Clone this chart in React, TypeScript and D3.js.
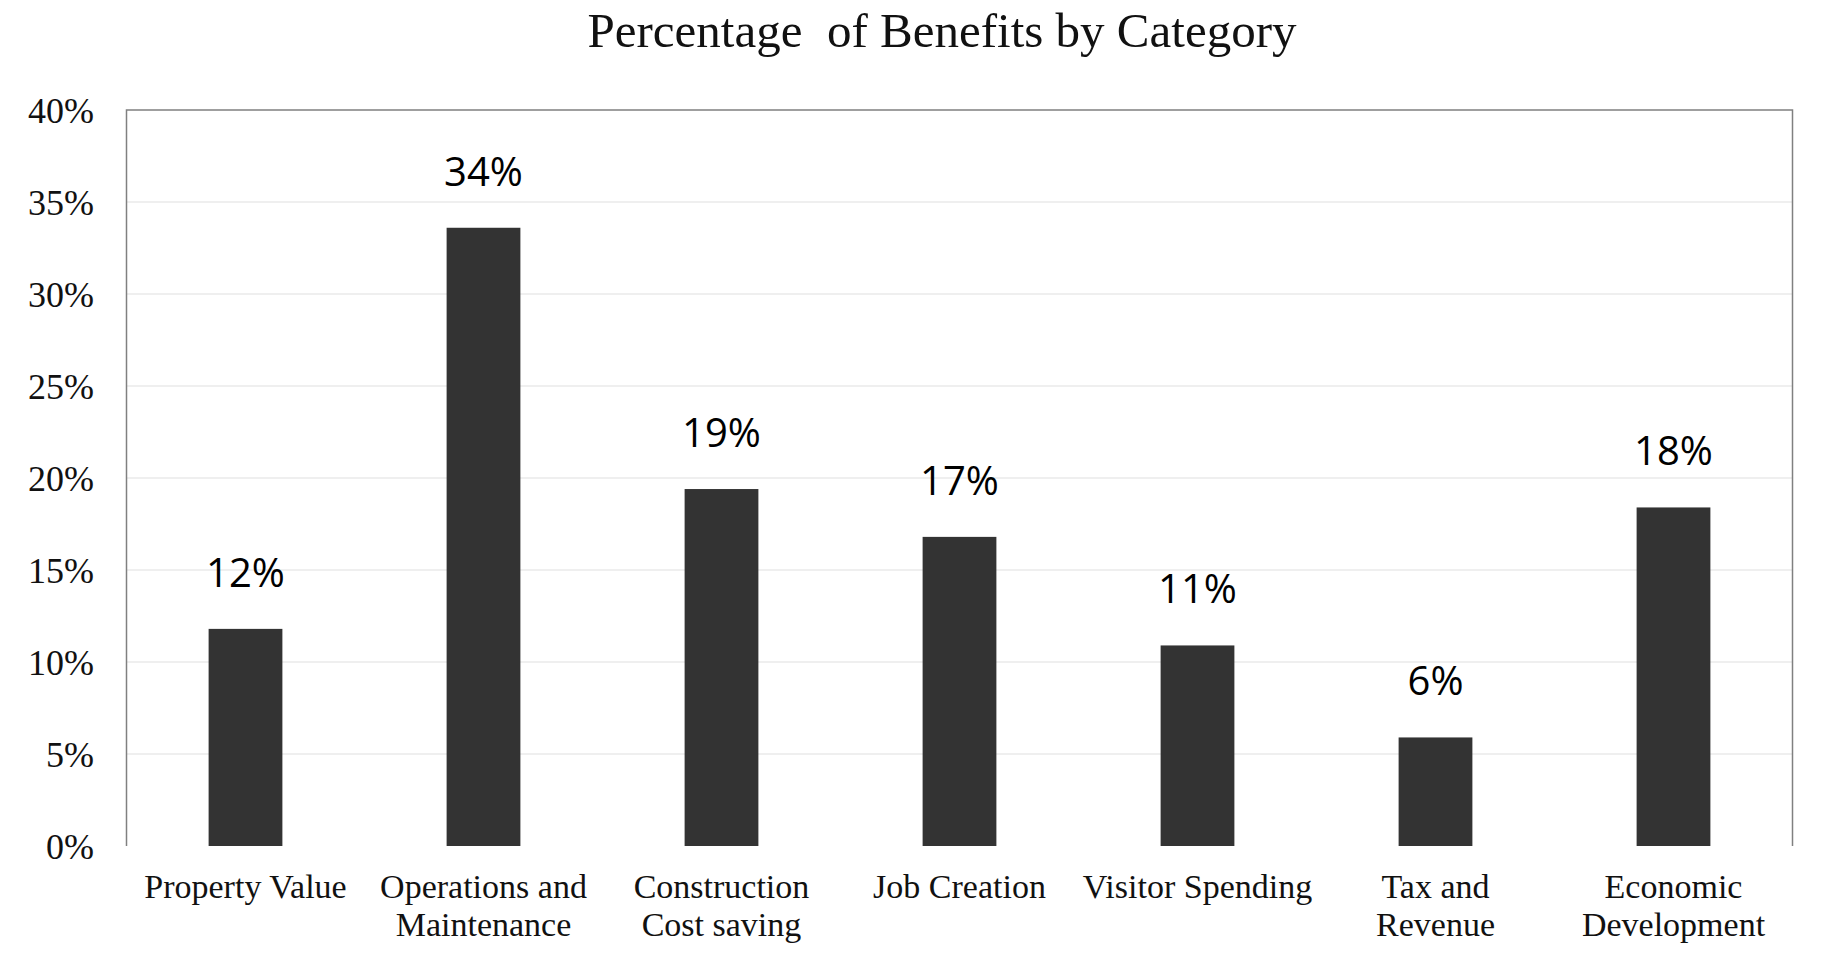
import React from "react";
import * as d3 from "d3";

const categories: string[][] = [
  ["Property Value"],
  ["Operations and", "Maintenance"],
  ["Construction", "Cost saving"],
  ["Job Creation"],
  ["Visitor Spending"],
  ["Tax and", "Revenue"],
  ["Economic", "Development"],
];
const values: number[] = [11.8, 33.6, 19.4, 16.8, 10.9, 5.9, 18.4];
const yTicks: number[] = [0, 5, 10, 15, 20, 25, 30, 35, 40];
const title = "Percentage  of Benefits by Category";

const W = 1837;
const H = 966;
const left = 126.5;
const right = 1792.5;
const top = 110;
const bottom = 846;

export default function App() {
  const keys = categories.map((c) => c.join(" "));
  const x = d3
    .scaleBand<string>()
    .domain(keys)
    .range([left, right])
    .paddingInner(0.69)
    .paddingOuter(0.345);
  const y = d3.scaleLinear().domain([0, 40]).range([bottom, top]);

  return (
    <svg
      width={W}
      height={H}
      style={{ position: "absolute", left: 0, top: 0, background: "#fff" }}
    >
      <rect x={0} y={0} width={W} height={H} fill="#fff" />
      <text
        x={942}
        y={47}
        textAnchor="middle"
        fontFamily="'Liberation Serif', 'Times New Roman', serif"
        fontSize={49}
        fill="#111"
        style={{ whiteSpace: "pre" }}
      >
        {title}
      </text>
      {yTicks.map((t) => (
        <g key={t}>
          {t > 0 && t < 40 && (
            <line
              x1={left}
              x2={right}
              y1={y(t)}
              y2={y(t)}
              stroke="#efefef"
              strokeWidth={2}
            />
          )}
          <text
            x={94}
            y={y(t)}
            dy="0.36em"
            textAnchor="end"
            fontFamily="'Liberation Serif', 'Times New Roman', serif"
            fontSize={36}
            fill="#111"
          >
            {t}%
          </text>
        </g>
      ))}
      <path
        d={`M${left},${bottom} V${top} H${right} V${bottom}`}
        fill="none"
        stroke="#808080"
        strokeWidth={1.5}
      />
      {values.map((v, i) => {
        const k = keys[i];
        const bx = x(k)!;
        const bw = x.bandwidth();
        return (
          <g key={k}>
            <rect
              x={bx}
              y={y(v)}
              width={bw}
              height={y(0) - y(v)}
              fill="#333333"
            />
            <text
              x={bx + bw / 2}
              y={y(v) - 42}
              textAnchor="middle"
              fontFamily="'Open Sans', sans-serif"
              fontSize={40}
              fill="#000"
            >
              {Math.round(v)}%
            </text>
            {categories[i].map((line, j) => (
              <text
                key={j}
                x={bx + bw / 2}
                y={898 + j * 38}
                textAnchor="middle"
                fontFamily="'Liberation Serif', 'Times New Roman', serif"
                fontSize={34}
                fill="#111"
              >
                {line}
              </text>
            ))}
          </g>
        );
      })}
    </svg>
  );
}
